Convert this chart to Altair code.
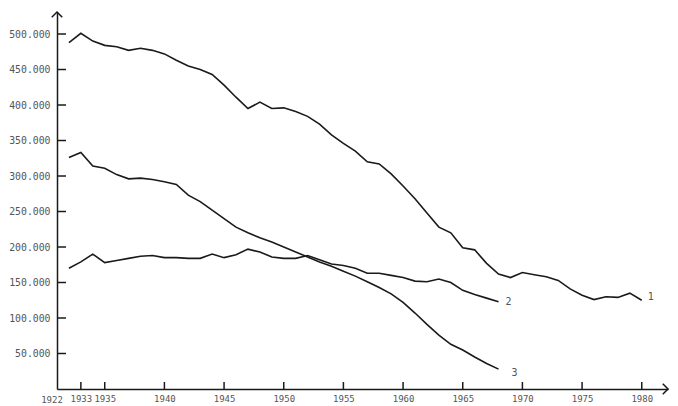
import altair as alt
import pandas as pd

# ---- data (values in thousands) ----
years_1 = list(range(1932, 1981))
series_1 = [488, 501, 490, 484, 482, 477, 480, 477, 472, 463,
            455, 450, 443, 428, 411, 395, 404, 395, 396, 391,
            384, 373, 358, 346, 335, 320, 317, 303, 286, 268,
            248, 228, 220, 199, 196, 177, 162, 157, 164, 161,
            158, 153, 141, 132, 126, 130, 129, 135, 125]
years_23 = list(range(1932, 1969))
series_2 = [170, 179, 190, 178, 181, 184, 187, 188, 185, 185,
            184, 184, 190, 185, 189, 197, 193, 186, 184, 184,
            188, 182, 176, 174, 170, 163, 163, 160, 157, 152,
            151, 155, 150, 139, 133, 128, 123]
series_3 = [326, 333, 314, 311, 302, 296, 297, 295, 292, 288,
            273, 264, 252, 240, 228, 220, 213, 207, 200, 193,
            186, 179, 173, 166, 159, 151, 143, 134, 122, 107,
            91, 76, 63, 55, 45, 36, 28]
line_labels = ["1", "2", "3"]
x_tick_values = [1933, 1935, 1940, 1945, 1950, 1955, 1960, 1965, 1970, 1975, 1980]
origin_label = "1922"
y_tick_values = [50000, 100000, 150000, 200000, 250000, 300000, 350000, 400000, 450000, 500000]

X_MIN, X_MAX = 1931, 1982.2
Y_MAX = 531000
W, H = 611, 377
FONT = "DejaVu Sans Mono"
INK = "#1a1a1a"
LABEL = "#555555"
XLAB_PAD = 5
XLAB_SIZE = 9

rows = []
for name, yrs, vals in [("1", years_1, series_1), ("2", years_23, series_2), ("3", years_23, series_3)]:
    for yr, v in zip(yrs, vals):
        rows.append({"series": name, "year": yr, "value": v * 1000})
df = pd.DataFrame(rows)

ends = df.groupby("series").tail(1).reset_index(drop=True)

xs = alt.Scale(domain=[X_MIN, X_MAX], nice=False, zero=False)
ysc = alt.Scale(domain=[0, Y_MAX], nice=False, zero=True)

x_axis = alt.Axis(values=x_tick_values, format="d",
                  ticks=False, grid=False, domainColor=INK, domainWidth=1.5,
                  labelFont=FONT, labelFontSize=XLAB_SIZE, labelColor=LABEL, labelPadding=XLAB_PAD,
                  title=None, labelFlush=False, labelOverlap=False)
y_axis = alt.Axis(values=y_tick_values,
                  labelExpr="replace(format(datum.value, ','), ',', '.')",
                  ticks=False, grid=False, domainColor=INK, domainWidth=1.5,
                  labelFont=FONT, labelFontSize=9.8, labelColor=LABEL, labelPadding=7,
                  title=None, labelOverlap=False)

X = alt.X("year:Q", scale=xs, axis=x_axis)
Y = alt.Y("value:Q", scale=ysc, axis=y_axis)

lines = alt.Chart(df).mark_line(color=INK, strokeWidth=1.6).encode(x=X, y=Y, detail="series:N")

label_offsets = {"1": (6, -3), "2": (7, 0), "3": (13, 4)}
label_layers = []
for name in line_labels:
    dx, dy = label_offsets[name]
    label_layers.append(
        alt.Chart(ends[ends.series == name]).mark_text(
            align="left", baseline="middle", dx=dx, dy=dy,
            font=FONT, fontSize=10, color=LABEL
        ).encode(x=X, y=Y, text="series:N")
    )

origin = pd.DataFrame({"year": [X_MIN], "value": [0], "text": [origin_label]})
origin_text = alt.Chart(origin).mark_text(
    align="center", baseline="top", dx=-5, dy=XLAB_PAD + 2, font=FONT, fontSize=XLAB_SIZE, color=LABEL
).encode(x=X, y=Y, text="text:N")

yt = pd.DataFrame({"value": y_tick_values})
y_ticks = alt.Chart(yt).mark_rule(color=INK, strokeWidth=1.5).encode(
    y=Y, x=alt.value(0), x2=alt.value(9))

xt = pd.DataFrame({"year": x_tick_values})
x_ticks = alt.Chart(xt).mark_rule(color=INK, strokeWidth=1.5).encode(
    x=X, y=alt.value(H), y2=alt.value(H - 7))

up = pd.DataFrame({"year": [X_MIN], "value": [Y_MAX]})
right = pd.DataFrame({"year": [X_MAX], "value": [0]})
arrow_up = alt.Chart(up).mark_point(shape="M-1,1L0,0L1,1", filled=False, size=110,
                                    strokeWidth=1.5, color=INK, opacity=1).encode(x=X, y=Y)
arrow_right = alt.Chart(right).mark_point(shape="M-1,-1L0,0L-1,1", filled=False, size=110,
                                          strokeWidth=1.5, color=INK, opacity=1).encode(x=X, y=Y)

chart = alt.layer(lines, y_ticks, x_ticks, arrow_up, arrow_right, origin_text, *label_layers).properties(
    width=W, height=H,
    padding={"left": 49, "top": 4, "right": 2, "bottom": 15},
    autosize=alt.AutoSizeParams(type="none"),
    background="white",
).configure_view(stroke=None)

chart.save("out.html", embed_options={"renderer": "svg", "actions": False})
